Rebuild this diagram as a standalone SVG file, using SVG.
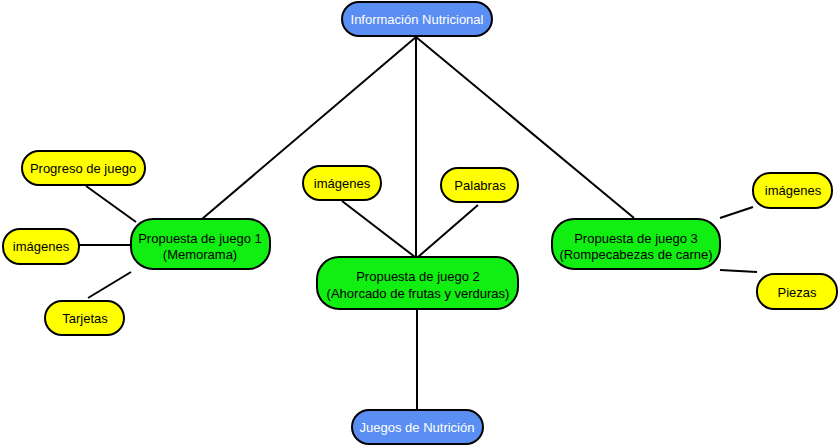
<svg xmlns="http://www.w3.org/2000/svg" width="840" height="448" viewBox="0 0 840 448">
  <style>
    .node rect { stroke: #000; stroke-width: 2; }
    .blue rect { fill: #5a8ef2; }
    .green rect { fill: #11ee11; }
    .yellow rect { fill: #ffff00; }
    text { font-family: "Liberation Sans", Arial, sans-serif; font-size: 13px; text-anchor: middle; }
    .blue text { fill: #ffffff; }
    .green text, .yellow text { fill: #000000; }
    #connectors line { stroke: #000; stroke-width: 2; }
  </style>
  <rect width="840" height="448" fill="#ffffff"/>

  <g id="connectors">
    <line x1="416" y1="37" x2="202" y2="219"/>
    <line x1="416" y1="37" x2="416" y2="257"/>
    <line x1="416" y1="37" x2="634" y2="218"/>
    <line x1="86" y1="186" x2="136" y2="222"/>
    <line x1="79" y1="245" x2="131" y2="245"/>
    <line x1="88" y1="298" x2="131" y2="272"/>
    <line x1="342" y1="201" x2="415" y2="257"/>
    <line x1="478" y1="205" x2="418" y2="257"/>
    <line x1="720" y1="218" x2="753" y2="207"/>
    <line x1="720" y1="270" x2="757" y2="272"/>
    <line x1="417" y1="310" x2="417" y2="410"/>
  </g>

  <g id="info-nutricional" class="node blue">
    <rect x="342" y="2" width="150" height="34" rx="17"/>
    <text x="417" y="24">Información Nutricional</text>
  </g>

  <g id="juego1" class="node green">
    <rect x="131" y="219" width="139" height="50" rx="22"/>
    <text x="200" y="243">Propuesta de juego 1</text>
    <text x="200" y="259">(Memorama)</text>
  </g>

  <g id="juego2" class="node green">
    <rect x="317" y="257" width="201" height="52" rx="22"/>
    <text x="418" y="281">Propuesta de juego 2</text>
    <text x="418" y="298">(Ahorcado de frutas y verduras)</text>
  </g>

  <g id="juego3" class="node green">
    <rect x="552" y="219" width="168" height="50" rx="22"/>
    <text x="636" y="243">Propuesta de juego 3</text>
    <text x="636" y="259">(Rompecabezas de carne)</text>
  </g>

  <g id="progreso" class="node yellow">
    <rect x="22" y="151" width="123" height="34" rx="17"/>
    <text x="83" y="173">Progreso de juego</text>
  </g>

  <g id="imagenes1" class="node yellow">
    <rect x="3" y="229" width="76" height="35" rx="17"/>
    <text x="41" y="251">imágenes</text>
  </g>

  <g id="tarjetas" class="node yellow">
    <rect x="45" y="301" width="79" height="34" rx="17"/>
    <text x="85" y="323">Tarjetas</text>
  </g>

  <g id="imagenes2" class="node yellow">
    <rect x="303" y="166" width="78" height="34" rx="17"/>
    <text x="342" y="188">imágenes</text>
  </g>

  <g id="palabras" class="node yellow">
    <rect x="441" y="168" width="77" height="34" rx="17"/>
    <text x="480" y="190">Palabras</text>
  </g>

  <g id="imagenes3" class="node yellow">
    <rect x="753" y="173" width="79" height="35" rx="17"/>
    <text x="793" y="195">imágenes</text>
  </g>

  <g id="piezas" class="node yellow">
    <rect x="757" y="274" width="80" height="35" rx="17"/>
    <text x="797" y="297">Piezas</text>
  </g>

  <g id="juegos-nutricion" class="node blue">
    <rect x="352" y="410" width="131" height="34" rx="17"/>
    <text x="417" y="432">Juegos de Nutrición</text>
  </g>
</svg>
